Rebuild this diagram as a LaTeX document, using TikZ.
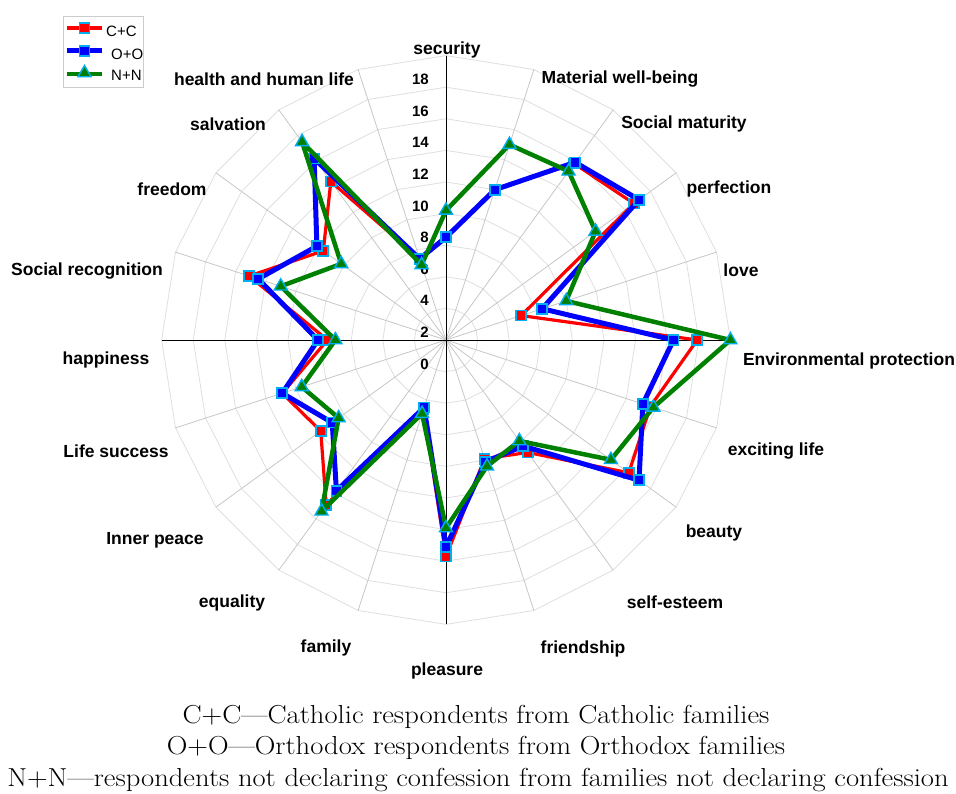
\documentclass[tikz,border=0pt]{standalone}
\usepackage{fontspec}
\setsansfont{Liberation Sans}
\usetikzlibrary{positioning, shapes.geometric}

\tikzset{
    axlabel/.style={font=\sffamily\bfseries\fontsize{17.5}{20}\selectfont, inner sep=0pt},
    ticklabel/.style={font=\sffamily\bfseries\fontsize{15}{18}\selectfont, anchor=east, inner sep=0pt},
    legtext/.style={font=\sffamily\fontsize{15}{18}\selectfont, anchor=west, inner sep=0pt},
    captext/.style={font=\fontsize{26}{30}\selectfont, inner sep=0pt},
    gridline/.style={draw=black!13, line width=0.8pt},
    spoke/.style={draw=black!22, line width=0.8pt},
    ccline/.style={draw=red, line width=3.2pt, line join=round},
    ooline/.style={draw=blue, line width=5pt, line join=round},
    nnline/.style={draw=green!50!black, line width=4.5pt, line join=round},
    sqmark/.style={rectangle, draw=cyan, line width=1.6pt, minimum size=10pt, inner sep=0pt},
    ccmark/.style={sqmark, fill=red},
    oomark/.style={sqmark, fill=blue},
    nnmark/.style={regular polygon, regular polygon sides=3, draw=cyan, line width=1.4pt,
        fill=green!50!black, minimum size=15pt, inner sep=0pt},
}

\begin{document}
\begin{tikzpicture}[x=1pt, y=1pt]

    \useasboundingbox (0,0) rectangle (956,794);

    % Chart
    \begin{scope}[shift={(446,454)}]
        \coordinate (C) at (0,0);

        % Grid
        \foreach \k in {0,...,19}
            \coordinate (out\k) at ({90-18*\k}:284.4);
        \foreach \j in {1,...,9}
            \draw[gridline] (90:{\j*31.6}) \foreach \k in {1,...,19} {-- ({90-18*\k}:{\j*31.6})} -- cycle;
        \foreach \k in {0,...,19}
            \draw[spoke] (C) -- (out\k);
        \draw[black, line width=0.8pt] (out0) -- (out10);
        \draw[black, line width=0.8pt] (out5) -- (out15);

        % Scale
        \foreach \v in {0,2,...,18}
            \node[ticklabel] (tick\v) at (-17, {15.8*\v-24}) {\v};

        % C+C
        \foreach \v [count=\k from 0] in {8.5,12.0,15.8,16.7,7.0,17.9,15.6,16.3,10.8,9.9,
                                          15.7,6.6,14.9,11.8,12.9,9.5,15.1,11.6,14.4,7.4}
            \coordinate (cc\k) at ({90-18*\k}:{(\v-2)*15.8});
        \draw[ccline] (cc0) \foreach \k in {1,...,19} {-- (cc\k)} -- cycle;
        \foreach \k in {0,...,19}
            \node[ccmark] (ccm\k) at (cc\k) {};

        % O+O
        \foreach \v [count=\k from 0] in {8.5,12.0,15.9,17.1,8.4,16.4,15.1,17.1,10.3,10.1,
                                          15.1,6.5,13.8,10.9,12.9,10.1,14.5,12.1,16.2,7.4}
            \coordinate (oo\k) at ({90-18*\k}:{(\v-2)*15.8});
        \draw[ooline] (oo0) \foreach \k in {1,...,19} {-- (oo\k)} -- cycle;
        \foreach \k in {0,...,19}
            \node[oomark] (oom\k) at (oo\k) {};

        % N+N
        \foreach \v [count=\k from 0] in {10.2,15.0,15.2,13.7,10.0,20.0,15.8,14.9,9.9,10.4,
                                          13.9,6.9,15.4,10.4,11.6,9.0,13.0,10.2,17.5,7.0}
            \coordinate (nn\k) at ({90-18*\k}:{(\v-2)*15.8});
        \draw[nnline] (nn0) \foreach \k in {1,...,19} {-- (nn\k)} -- cycle;
        \foreach \k in {0,...,19}
            \node[nnmark] (nnm\k) at (nn\k) {};
    \end{scope}

    % Axis labels
    \foreach \txt/\x/\y [count=\i from 0] in {
            security/447/744, Material well-being/620/715, Social maturity/684/670,
            perfection/729/605, love/741/524, Environmental protection/849/433,
            exciting life/776/343, beauty/714/261, self-esteem/675/192,
            friendship/583/145, pleasure/447/123, family/326/146, equality/232/191,
            Inner peace/155/254, Life success/116/343, happiness/106/434,
            Social recognition/87/523, freedom/172/605, salvation/228/670,
            health and human life/264/715}
        \node[axlabel] (lab\i) at (\x,\y) {\txt};

    % Legend
    \node[draw=black!20, line width=0.8pt, minimum width=80pt, minimum height=71pt,
          inner sep=0pt] (legend) at (103,742.5) {};
    \coordinate (lcc1) at (67,766);  \coordinate (lcc2) at (102,766);
    \coordinate (loo1) at (67,743);  \coordinate (loo2) at (102,743);
    \coordinate (lnn1) at (67,720);  \coordinate (lnn2) at (102,720);
    \draw[ccline] (lcc1) -- (lcc2);
    \node[ccmark] (lccm) at (84.5,766) {};
    \node[legtext] (lcct) at (106,763) {C+C};
    \draw[ooline] (loo1) -- (loo2);
    \node[oomark] (loom) at (84.5,743) {};
    \node[legtext] (loot) at (111,740) {O+O};
    \draw[nnline] (lnn1) -- (lnn2);
    \node[nnmark] (lnnm) at (84.5,721) {};
    \node[legtext] (lnnt) at (111,719) {N+N};

    % Caption
    \node[captext] (cap1) at (476,77)
        {\scalebox{1.1}[1]{C+C---Catholic respondents from Catholic families}};
    \node[captext] (cap2) at (476,46)
        {\scalebox{1.1}[1]{O+O---Orthodox respondents from Orthodox families}};
    \node[captext] (cap3) at (478,14)
        {\scalebox{1.1}[1]{N+N---respondents not declaring confession from families not declaring confession}};

\end{tikzpicture}
\end{document}
